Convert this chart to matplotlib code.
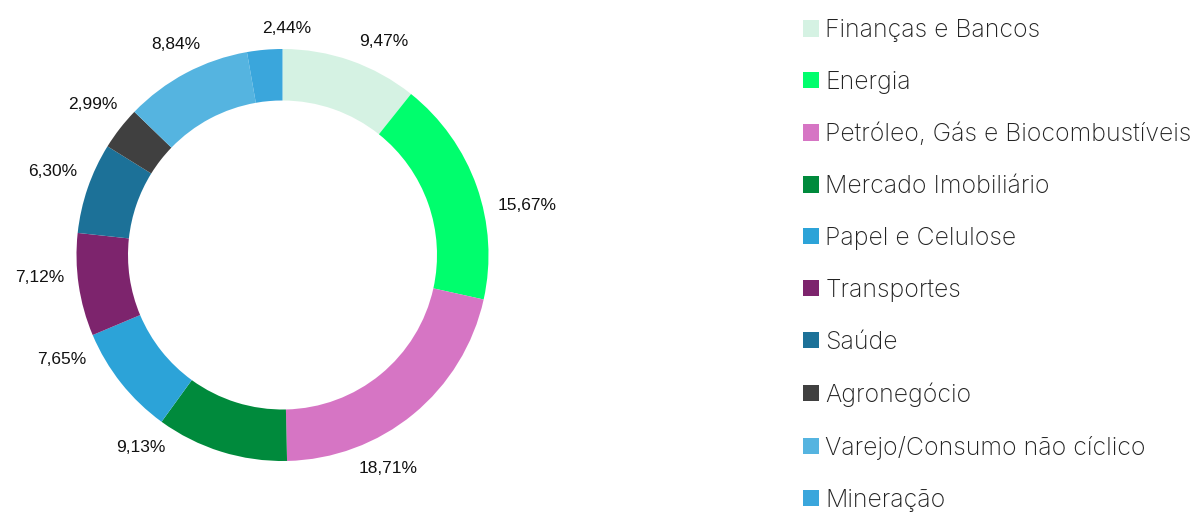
"""
donut chart of sector allocation with legend on the right
"""

import numpy as np
import matplotlib
matplotlib.use("Agg")
import matplotlib.pyplot as plt
from matplotlib.patches import Patch

sectors = ["Finanças e Bancos", "Energia", "Petróleo, Gás e Biocombustíveis",
           "Mercado Imobiliário", "Papel e Celulose", "Transportes", "Saúde",
           "Agronegócio", "Varejo/Consumo não cíclico", "Mineração"]
shares = [9.47, 15.67, 18.71, 9.13, 7.65, 7.12, 6.30, 2.99, 8.84, 2.44]
share_labels = ["9,47%", "15,67%", "18,71%", "9,13%", "7,65%", "7,12%",
                "6,30%", "2,99%", "8,84%", "2,44%"]

colors = ["#d5f2e3", "#00fe6d", "#d675c4", "#008a3c", "#2ca3d8",
          "#7d246d", "#1c7198", "#404040", "#55b4e0", "#3aa6dc"]
# small angular nudges (deg, clockwise) so labels sit like the original
label_nudge = [6, 8, 13, 19, 13, 3, 1, 0.5, 1, 6]

W, H = 1193, 515
fig = plt.figure(figsize=(W / 100, H / 100), dpi=100)

cx, cy, R = 282.5, 255, 206
ax = fig.add_axes([(cx - R) / W, (H - cy - R) / H, 2 * R / W, 2 * R / H])

wedges, _ = ax.pie(shares, colors=colors, startangle=90, counterclock=False,
                   radius=1, wedgeprops=dict(width=0.25, linewidth=0))
# pie resets the limits, so set them afterwards
ax.set_xlim(-1, 1)
ax.set_ylim(-1, 1)
ax.set_aspect("equal")
ax.axis("off")

# labels just outside the ring
total = sum(shares)
cum = np.cumsum([0] + shares)
px = 1.0 / R
for i, lab in enumerate(share_labels):
    mid = (cum[i] + cum[i + 1]) / 2 / total * 360 + label_nudge[i]
    th = np.deg2rad(mid)
    s, c = np.sin(th), np.cos(th)
    half_w = (len(lab) * 9.8) / 2 * px
    half_h = 7 * px
    r = 1 + 13 * px + half_w * abs(s) + half_h * abs(c)
    ax.text(r * s, r * c, lab, ha="center", va="center", fontsize=12.5,
            family="Liberation Sans", color="#111111", clip_on=False)

handles = [Patch(facecolor=cl, edgecolor="none") for cl in colors]
leg = fig.legend(handles, sectors, loc="upper left",
                 bbox_to_anchor=(803 / W, 1 - 19 / H), frameon=False,
                 prop=dict(family="Inter", size=17.9, weight="light"),
                 handlelength=0.65, handleheight=0.65, handletextpad=0.25,
                 labelspacing=1.16, borderaxespad=0, borderpad=0)
for t in leg.get_texts():
    t.set_color("#222222")

fig.savefig("out.png", dpi=100)
